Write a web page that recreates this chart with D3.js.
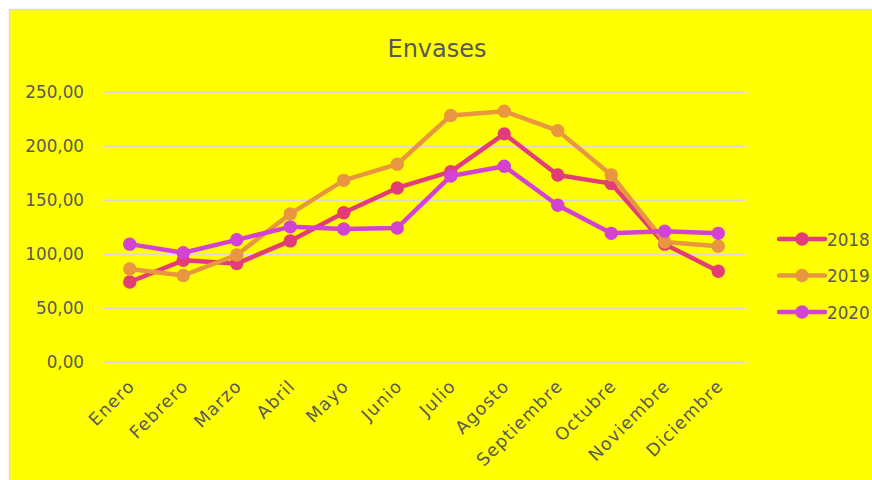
<html>

<head>
  <script src="https://d3js.org/d3.v7.min.js"></script>
  <style>
    body { margin: 0; background: #ffffff; }
    text { font-family: "DejaVu Sans", sans-serif; fill: #595959; }
  </style>
</head>

<body>
  <svg id="chart" width="872" height="480"></svg>

  <script>
    // data
    const months = ["Enero", "Febrero", "Marzo", "Abril", "Mayo", "Junio", "Julio",
      "Agosto", "Septiembre", "Octubre", "Noviembre", "Diciembre"];
    const years = ["2018", "2019", "2020"];
    const values2018 = [74, 94, 91, 112, 138, 161, 176, 211, 173, 165, 109, 84];
    const values2019 = [86, 80, 99, 137, 168, 183, 228, 232, 214, 173, 111, 107];
    const values2020 = [109, 101, 113, 125, 123, 124, 172, 181, 145, 119, 121, 119];
    const yTicks = [0, 50, 100, 150, 200, 250];

    const colors = ["#e23d78", "#e99640", "#d442d4"];
    const series = [values2018, values2019, values2020];

    const svg = d3.select("svg#chart");

    // chart area frame
    svg.append("rect")
      .attr("x", 9.5).attr("y", 9.5)
      .attr("width", 900).attr("height", 500)
      .attr("fill", "#ffff00")
      .attr("stroke", "#d9d9d9")
      .attr("stroke-width", 1.5);

    const margins = { top: 91.7, left: 103, right: 745, bottom: 362 };

    const xScale = d3.scaleBand().domain(months).range([margins.left, margins.right]);
    const yScale = d3.scaleLinear().domain([0, 250]).range([margins.bottom, margins.top]);

    // gridlines
    let leftGridlines = d3.axisLeft(yScale).tickValues(yTicks).tickFormat("")
      .tickSize(-(margins.right - margins.left));
    let grid = svg.append("g")
      .attr("class", "gridlines")
      .attr("transform", `translate(${margins.left},0)`)
      .call(leftGridlines);
    grid.select(".domain").remove();
    grid.selectAll("line").attr("stroke", "#d9d9d9").attr("stroke-width", 1.5);

    // y labels
    const fmt = v => d3.format(".2f")(v).replace(".", ",");
    let leftAxis = d3.axisLeft(yScale).tickValues(yTicks).tickFormat(fmt).tickSize(0).tickPadding(19);
    let yAxis = svg.append("g")
      .attr("transform", `translate(${margins.left},0)`)
      .call(leftAxis);
    yAxis.select(".domain").remove();
    yAxis.selectAll("text")
      .attr("font-family", "DejaVu Sans")
      .attr("font-size", 16.8)
      .attr("fill", "#595959");

    // x labels
    let bottomAxis = d3.axisBottom(xScale).tickSize(0);
    let xAxis = svg.append("g")
      .attr("transform", `translate(0,${margins.bottom})`)
      .call(bottomAxis);
    xAxis.select(".domain").remove();
    xAxis.selectAll("text")
      .attr("font-family", "DejaVu Sans")
      .attr("font-size", 17.5)
      .attr("letter-spacing", 1.2)
      .attr("fill", "#595959")
      .attr("text-anchor", "end")
      .attr("dy", 0)
      .attr("transform", "translate(4,23) rotate(-45)");

    // title
    svg.append("text")
      .attr("x", 437)
      .attr("y", 57)
      .attr("text-anchor", "middle")
      .attr("font-size", 24)
      .text("Envases");

    // lines
    const line = d3.line()
      .x((d, i) => xScale(months[i]) + xScale.bandwidth() / 2)
      .y(d => yScale(d));

    series.forEach((vals, s) => {
      svg.append("path")
        .datum(vals)
        .attr("d", line)
        .attr("fill", "none")
        .attr("stroke", colors[s])
        .attr("stroke-width", 4.5)
        .attr("stroke-linejoin", "round")
        .attr("stroke-linecap", "round");

      svg.append("g").selectAll("circle")
        .data(vals)
        .join("circle")
        .attr("cx", (d, i) => xScale(months[i]) + xScale.bandwidth() / 2)
        .attr("cy", d => yScale(d))
        .attr("r", 6.7)
        .attr("fill", colors[s]);
    });

    // legend
    years.forEach((y, i) => {
      const ly = 239 + i * 36.5;
      svg.append("line")
        .attr("x1", 779).attr("x2", 825)
        .attr("y1", ly).attr("y2", ly)
        .attr("stroke", colors[i])
        .attr("stroke-width", 4.5)
        .attr("stroke-linecap", "round");
      svg.append("circle")
        .attr("cx", 802).attr("cy", ly)
        .attr("r", 6.7)
        .attr("fill", colors[i]);
      svg.append("text")
        .attr("x", 827)
        .attr("y", ly + 6.5)
        .attr("font-size", 16.8)
        .text(y);
    });
  </script>

</body>

</html>
